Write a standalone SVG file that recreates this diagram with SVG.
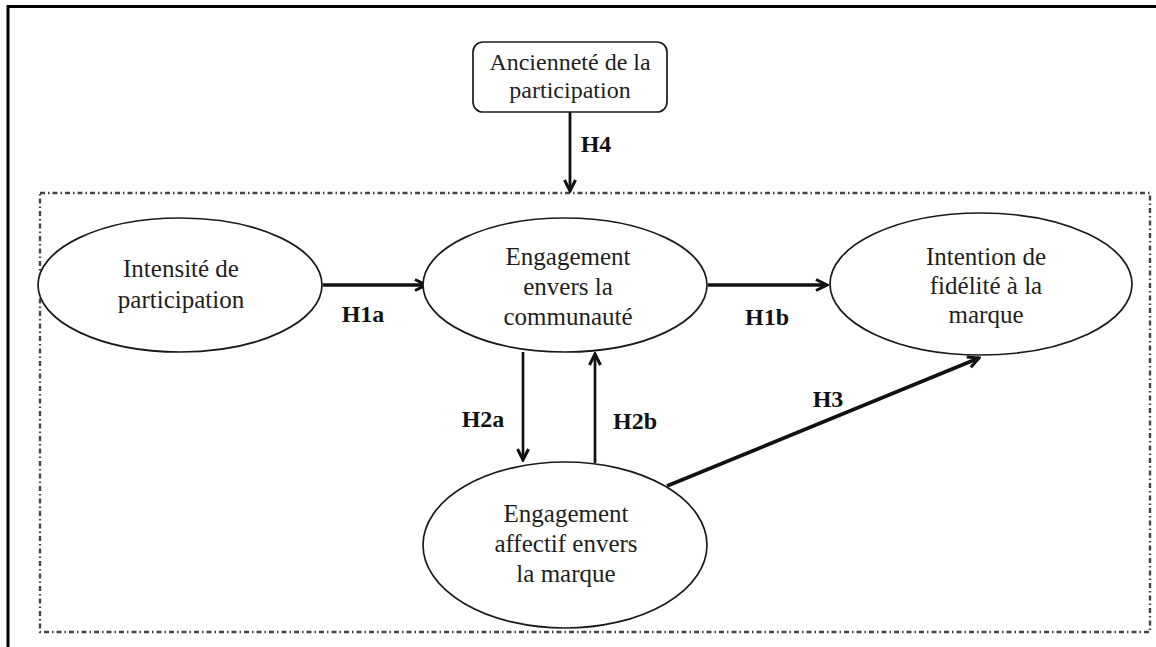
<svg xmlns="http://www.w3.org/2000/svg" width="1156" height="647" viewBox="0 0 1156 647">
<style>
.node{fill:#fff;stroke:#1a1a1a;stroke-width:1.7}
.t{font-family:"Liberation Serif","Times New Roman",serif;font-size:25px;fill:#1e1e1e;text-anchor:middle}
.tb{font-size:24px}
.lbl{font-family:"Liberation Serif","Times New Roman",serif;font-size:24px;font-weight:bold;fill:#111;text-anchor:middle}
.edge{stroke:#111;fill:none;marker-end:url(#arr)}
</style>
<defs>
<marker id="arr" viewBox="0 0 16 16" refX="14" refY="8" markerWidth="16" markerHeight="16" markerUnits="userSpaceOnUse" orient="auto">
<path d="M3,2.5 L14,8 L3,13.5" fill="none" stroke="#111" stroke-width="3" stroke-linejoin="miter"/>
</marker>
</defs>
<rect width="1156" height="647" fill="#fff"/>
<g id="frame">
<path d="M8,647 V6.5 H1156" fill="none" stroke="#000" stroke-width="3"/>
</g>
<g id="moderation-zone">
<rect x="40" y="193" width="1110" height="439" fill="none" stroke="#444" stroke-width="2.4" stroke-dasharray="5 3 1.5 3"/>
</g>
<g id="connectors">
<line class="edge" x1="570" y1="112" x2="570" y2="191" stroke-width="2.8"/>
<line class="edge" x1="323" y1="285" x2="426" y2="285" stroke-width="3.6"/>
<line class="edge" x1="708" y1="285" x2="827" y2="285" stroke-width="3.6"/>
<line class="edge" x1="523" y1="352" x2="523" y2="460" stroke-width="2.7"/>
<line class="edge" x1="595" y1="463" x2="595" y2="354" stroke-width="2.7"/>
<line class="edge" x1="667" y1="486" x2="979" y2="358" stroke-width="3.6"/>
<text class="lbl" x="596" y="152">H4</text>
<text class="lbl" x="363" y="322">H1a</text>
<text class="lbl" x="767" y="325">H1b</text>
<text class="lbl" x="483" y="427">H2a</text>
<text class="lbl" x="635" y="429">H2b</text>
<text class="lbl" x="828" y="407">H3</text>
</g>
<g id="anciennete">
<rect class="node" x="473" y="42" width="194" height="70" rx="10"/>
<text class="t tb" x="570" y="70">Ancienneté de la</text>
<text class="t tb" x="570" y="98">participation</text>
</g>
<g id="intensite">
<ellipse class="node" cx="180" cy="285" rx="142" ry="67"/>
<text class="t" x="181" y="277">Intensité de</text>
<text class="t" x="181" y="308">participation</text>
</g>
<g id="engagement-communaute">
<ellipse class="node" cx="565" cy="285" rx="142" ry="67"/>
<text class="t" x="568" y="265">Engagement</text>
<text class="t" x="568" y="295">envers la</text>
<text class="t" x="568" y="325">communauté</text>
</g>
<g id="intention-fidelite">
<ellipse class="node" cx="981" cy="284" rx="151" ry="71"/>
<text class="t" x="986" y="265">Intention de</text>
<text class="t" x="986" y="294">fidélité à la</text>
<text class="t" x="986" y="323">marque</text>
</g>
<g id="engagement-affectif">
<ellipse class="node" cx="565" cy="545" rx="142" ry="83"/>
<text class="t" x="566" y="522">Engagement</text>
<text class="t" x="566" y="552">affectif envers</text>
<text class="t" x="566" y="582">la marque</text>
</g>
</svg>
